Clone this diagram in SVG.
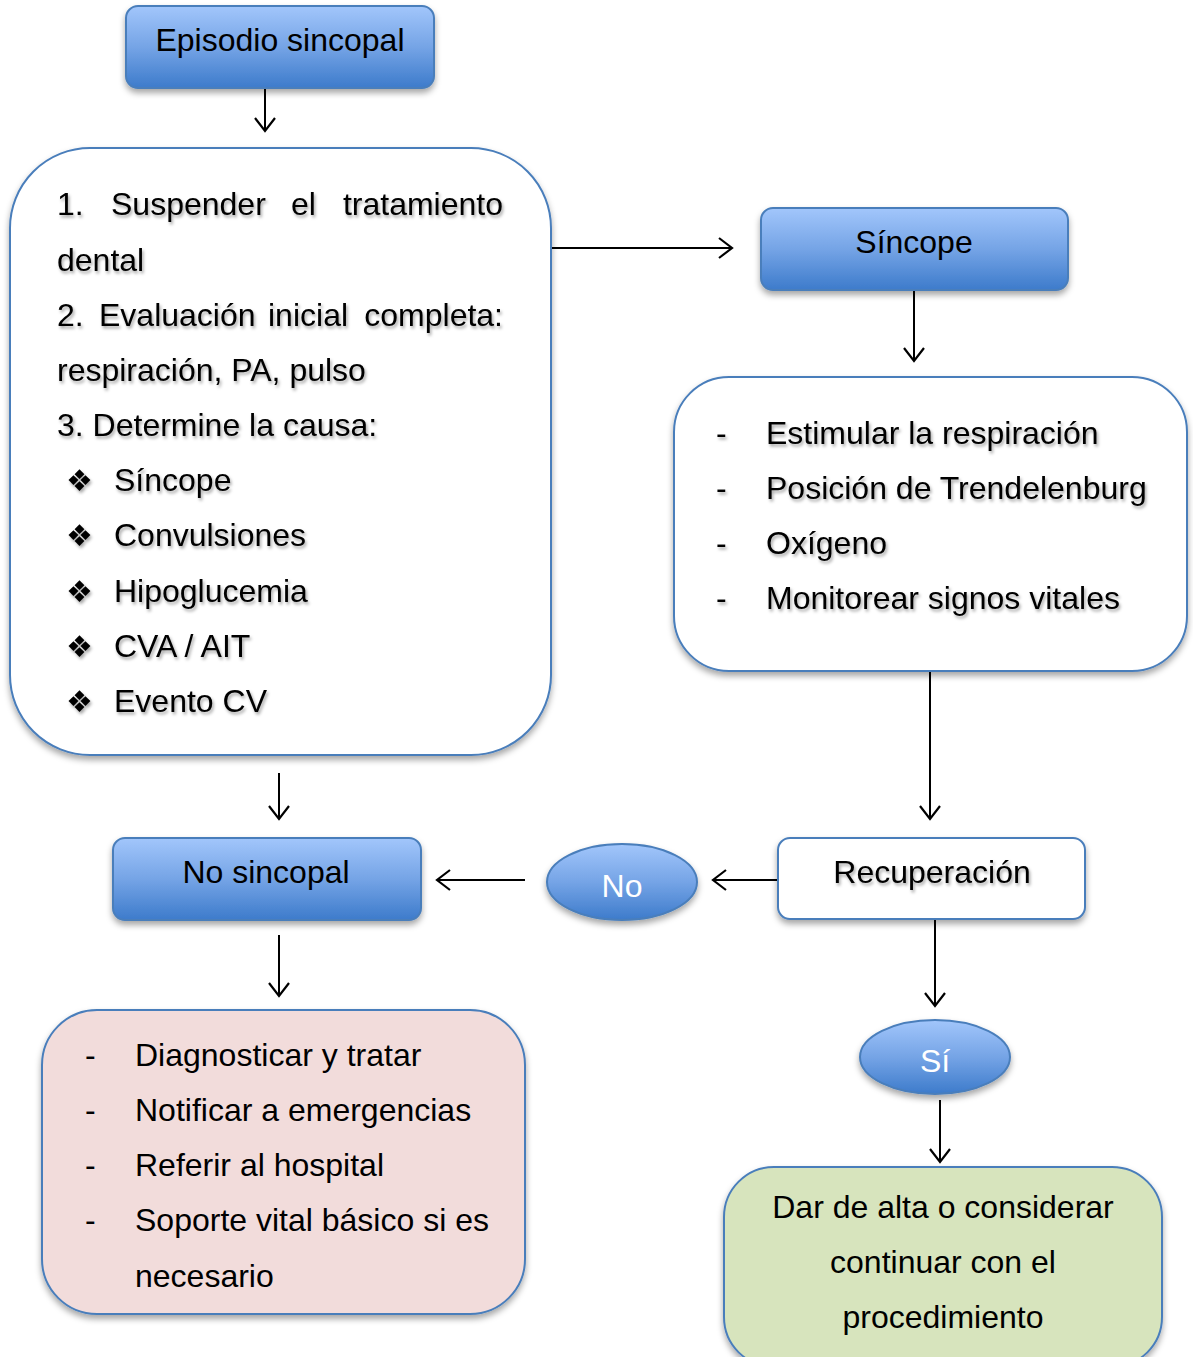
<svg xmlns="http://www.w3.org/2000/svg" width="1193" height="1357" viewBox="0 0 1193 1357">
<defs>
  <linearGradient id="blueGrad" x1="0" y1="0" x2="0" y2="1">
    <stop offset="0" stop-color="#a2c6fb"/>
    <stop offset="0.5" stop-color="#75a4e6"/>
    <stop offset="1" stop-color="#3d7bcb"/>
  </linearGradient>
  <filter id="boxShadow" x="-10%" y="-10%" width="120%" height="130%">
    <feDropShadow dx="0" dy="4" stdDeviation="3" flood-color="#000" flood-opacity="0.35"/>
  </filter>
  <filter id="txtShadow" x="-5%" y="-20%" width="110%" height="150%">
    <feDropShadow dx="1.5" dy="2.5" stdDeviation="1.5" flood-color="#000" flood-opacity="0.35"/>
  </filter>
  <marker id="arrow" markerUnits="userSpaceOnUse" markerWidth="24" markerHeight="24" viewBox="0 0 24 24" refX="15" refY="12" orient="auto">
    <path d="M2,2 L15,12 L2,22" fill="none" stroke="#000" stroke-width="2.2"/>
  </marker>
  <style>
    .t { font-family: "Liberation Sans", Arial, sans-serif; font-size: 32px; fill: #000; }
    .tc { text-anchor: middle; }
    .tw { fill: #fff; }
    .sh { filter: url(#txtShadow); }
    .blue { fill: url(#blueGrad); stroke: #4a7ebb; stroke-width: 2; filter: url(#boxShadow); }
    .plain { stroke: #4a7ebb; stroke-width: 2; filter: url(#boxShadow); }
    .bul { font-family: "DejaVu Sans", sans-serif; font-size: 30px; fill: #000; }
    .conn line { stroke: #000; stroke-width: 2; marker-end: url(#arrow); }
  </style>
</defs>
<rect width="1193" height="1357" fill="#fff"/>

<g id="connectors" class="conn">
  <line x1="265" y1="88" x2="265" y2="131"/>
  <line x1="552" y1="248" x2="732" y2="248"/>
  <line x1="914" y1="290" x2="914" y2="361"/>
  <line x1="930" y1="672" x2="930" y2="819"/>
  <line x1="778" y1="880" x2="713" y2="880"/>
  <line x1="525" y1="880" x2="437" y2="880"/>
  <line x1="279" y1="773" x2="279" y2="819"/>
  <line x1="279" y1="935" x2="279" y2="996"/>
  <line x1="935" y1="920" x2="935" y2="1006"/>
  <line x1="940" y1="1100" x2="940" y2="1162"/>
</g>

<g id="episodio">
  <rect class="blue" x="126" y="6" width="308" height="82" rx="12"/>
  <text class="t tc" x="280" y="51">Episodio sincopal</text>
</g>

<g id="pasos">
  <rect class="plain" fill="#fff" x="10" y="148" width="541" height="607" rx="80"/>
  <g class="t sh">
    <text x="57" y="215">1.</text>
    <text x="111" y="215">Suspender</text>
    <text x="291" y="215">el</text>
    <text x="503" y="215" text-anchor="end">tratamiento</text>
    <text x="57" y="271">dental</text>
    <text x="57" y="326">2.</text>
    <text x="99" y="326">Evaluación</text>
    <text x="268" y="326">inicial</text>
    <text x="503" y="326" text-anchor="end">completa:</text>
    <text x="57" y="381">respiración, PA, pulso</text>
    <text x="57" y="436">3. Determine la causa:</text>
    <text x="114" y="491">Síncope</text>
    <text x="114" y="546">Convulsiones</text>
    <text x="114" y="602">Hipoglucemia</text>
    <text x="114" y="657">CVA / AIT</text>
    <text x="114" y="712">Evento CV</text>
  </g>
  <g class="bul sh">
    <text x="66" y="491">❖</text>
    <text x="66" y="546">❖</text>
    <text x="66" y="602">❖</text>
    <text x="66" y="657">❖</text>
    <text x="66" y="712">❖</text>
  </g>
</g>

<g id="sincope">
  <rect class="blue" x="761" y="208" width="307" height="82" rx="12"/>
  <text class="t tc" x="914" y="253">Síncope</text>
</g>

<g id="acciones-sincope">
  <rect class="plain" fill="#fff" x="674" y="377" width="513" height="294" rx="55"/>
  <g class="t sh">
    <text x="716" y="444">-</text>
    <text x="766" y="444">Estimular la respiración</text>
    <text x="716" y="499">-</text>
    <text x="766" y="499">Posición de Trendelenburg</text>
    <text x="716" y="554">-</text>
    <text x="766" y="554">Oxígeno</text>
    <text x="716" y="609">-</text>
    <text x="766" y="609">Monitorear signos vitales</text>
  </g>
</g>

<g id="recuperacion">
  <rect class="plain" fill="#fff" x="778" y="838" width="307" height="81" rx="12"/>
  <text class="t tc sh" x="932" y="883">Recuperación</text>
</g>

<g id="no">
  <ellipse class="blue" cx="622" cy="882" rx="75" ry="38"/>
  <text class="t tc tw" x="622" y="897">No</text>
</g>

<g id="no-sincopal">
  <rect class="blue" x="113" y="838" width="308" height="82" rx="12"/>
  <text class="t tc" x="266" y="883">No sincopal</text>
</g>

<g id="acciones-no-sincopal">
  <rect class="plain" fill="#f2dcdb" x="42" y="1010" width="483" height="304" rx="55"/>
  <g class="t">
    <text x="85" y="1066">-</text>
    <text x="135" y="1066">Diagnosticar y tratar</text>
    <text x="85" y="1121">-</text>
    <text x="135" y="1121">Notificar a emergencias</text>
    <text x="85" y="1176">-</text>
    <text x="135" y="1176">Referir al hospital</text>
    <text x="85" y="1231">-</text>
    <text x="135" y="1231">Soporte vital básico si es</text>
    <text x="135" y="1287">necesario</text>
  </g>
</g>

<g id="si">
  <ellipse class="blue" cx="935" cy="1057" rx="75" ry="37"/>
  <text class="t tc tw" x="935" y="1072">Sí</text>
</g>

<g id="alta">
  <rect class="plain" fill="#d7e4bd" x="724" y="1167" width="438" height="200" rx="50"/>
  <g class="t tc">
    <text x="943" y="1218">Dar de alta o considerar</text>
    <text x="943" y="1273">continuar con el</text>
    <text x="943" y="1328">procedimiento</text>
  </g>
</g>
</svg>
